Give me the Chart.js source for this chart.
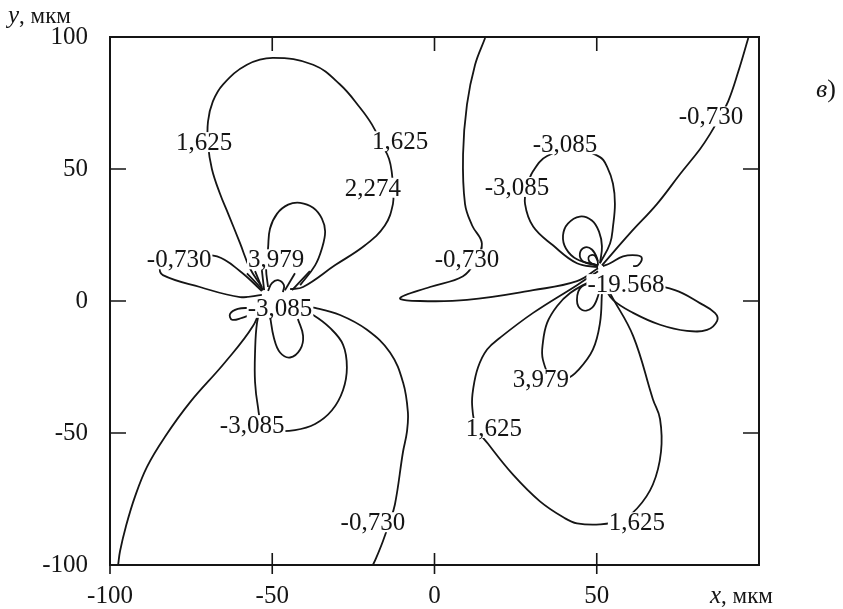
<!DOCTYPE html>
<html>
<head>
<meta charset="utf-8">
<script src="https://cdn.jsdelivr.net/npm/chart.js@4.4.1/dist/chart.umd.min.js"></script>
<style>
  html, body { margin: 0; padding: 0; background: #fff; }
  #wrap { width: 843px; height: 609px; }
</style>
</head>
<body>
<div id="wrap"><canvas id="chart" width="843" height="609"></canvas></div>
<script>
// axis ticks (мкм)
const xTicks = [-100, -50, 0, 50, 100];
const yTicks = [-100, -50, 0, 50, 100];

// contour lines as [x, y] pairs in мкм

// left dipole
const leftBigLoop = [[-53.2,5.3],[-56.9,12.4],[-59.9,21.8],[-63.6,33.1],[-66.1,40.6],[-68.6,50.0],[-69.8,59.4],[-69.8,68.0],[-68.3,75.6],[-65.2,82.0],[-57.8,89.5],[-49.8,92.1],[-37.4,89.5],[-29.1,82.0],[-23.0,73.3],[-19.3,66.9],[-16.2,59.4],[-14.0,53.8],[-13.1,48.1],[-12.8,42.5],[-12.8,36.8],[-15.3,28.6],[-21.4,21.1],[-30.7,13.5],[-40.5,5.3],[-44.5,4.5]];
const leftSmallLoop = [[-51.3,5.3],[-51.9,12.4],[-51.3,19.9],[-50.7,27.4],[-48.5,33.1],[-45.1,36.5],[-41.4,37.2],[-37.4,35.3],[-34.7,31.2],[-33.7,26.3],[-34.7,19.9],[-36.8,13.5],[-41.4,6.0]];
const leftSideLoop = [[-53.2,3.8],[-59.9,11.3],[-67.0,16.9],[-75.3,17.3],[-82.1,15.8],[-84.6,12.8],[-83.7,9.8],[-72.3,5.3],[-59.9,1.5],[-53.2,2.3]];
const leftHook = [[-56.9,-2.6],[-60.6,-3.0],[-63.0,-4.9],[-62.4,-7.1],[-59.3,-6.4],[-56.9,-5.3]];
const leftDownLine = [[-53.2,-0.8],[-55.9,-9.4],[-64.6,-23.3],[-75.3,-38.3],[-83.1,-51.5],[-88.6,-62.8],[-92.3,-74.1],[-95.1,-85.4],[-96.9,-94.7],[-97.5,-100]];
const leftLowerLoop = [[-53.2,-0.8],[-54.7,-8.3],[-55.3,-19.5],[-55.3,-30.8],[-54.4,-40.2],[-53.2,-45.9],[-49.2,-48.9],[-43.0,-48.9],[-36.8,-46.6],[-31.6,-41.4],[-28.2,-33.8],[-27.0,-25.2],[-28.2,-16.5],[-32.2,-10.2],[-37.4,-5.3],[-43.0,-1.9]];
const leftInnerLoop = [[-50.7,-5.6],[-49.5,-13.9],[-47.6,-19.5],[-44.5,-21.4],[-41.4,-18.4],[-40.5,-13.2],[-42.1,-6.8]];
const leftRightLine = [[-41.4,-1.9],[-36.8,-2.6],[-29.1,-5.3],[-20.8,-10.9],[-13.7,-19.5],[-9.7,-30.8],[-8.2,-42.1],[-8.5,-49.6],[-9.7,-57.1],[-12.2,-77.1],[-14.0,-84.2],[-15.9,-91.0],[-18.0,-97.4],[-19.0,-100]];
const leftFan1 = [[-57.8,10.5],[-52.9,4.1]];
const leftFan2 = [[-55.3,11.3],[-52.9,4.1]];
const leftFan3 = [[-53.2,11.7],[-52.5,4.1]];
const leftFan4 = [[-51.3,3.8],[-50.1,6.8],[-48.2,7.9],[-46.4,6.0],[-46.7,3.4]];
const leftFan5 = [[-43.0,10.5],[-46.1,4.1]];
const leftFan6 = [[-38.4,11.3],[-43.9,4.1]];

// right dipole
const rightThinLobe = [[15.6,99.6],[12.5,89.5],[10.0,74.4],[8.8,55.6],[9.4,36.8],[11.6,28.6],[14.6,21.8],[12.5,15.0],[8.8,9.4],[-1.4,5.3],[-10.6,1.1],[-4.5,0],[10.0,0.4],[30.4,4.1],[43.9,7.5],[50.4,12.4]];
const rightBigLoop = [[50.4,11.3],[43.9,6.0],[30.4,-4.5],[20.2,-13.9],[16.2,-18.4],[13.4,-25.2],[11.9,-33.5],[11.6,-39.5],[12.8,-47.7],[16.5,-54.1],[24.2,-65.8],[32.5,-75.9],[40.2,-82.3],[43.9,-84.2],[51.0,-84.6],[57.2,-83.1],[62.4,-78.6],[67.3,-69.5],[69.8,-57.1],[69.5,-44.7],[67.3,-37.2],[61.2,-13.2],[54.1,3.0],[51.6,9.8]];
const rightSideLobe = [[51.9,8.6],[63.3,6.8],[74.1,4.1],[81.8,-0.8],[86.4,-4.5],[87.1,-7.5],[84.0,-10.9],[77.8,-11.3],[69.5,-9.0],[61.2,-4.5],[55.0,0.4],[52.2,5.6]];
const rightHook = [[51.9,13.2],[54.1,14.3],[58.1,16.9],[62.4,17.3],[63.9,16.2],[62.7,13.5],[61.2,13.2]];
const rightUpLine = [[51.6,13.5],[60.2,25.6],[68.6,36.8],[75.7,48.1],[81.8,57.5],[84.9,63.2],[88.0,69.9],[90.5,75.6],[93.6,86.8],[96.7,99.6]];
const rightUpperLoop = [[51.0,14.3],[54.1,21.8],[55.0,28.2],[55.6,36.8],[55.0,44.4],[53.2,50.8],[51.0,54.5],[43.3,57.5],[34.7,54.9],[30.4,49.2],[28.5,43.2],[27.9,36.8],[30.4,28.2],[36.5,21.1],[43.9,14.3],[50.4,12.8]];
const rightMidLoop = [[50.4,13.5],[43.9,15.8],[40.5,19.9],[39.6,24.8],[41.1,29.3],[44.8,32.0],[48.5,30.5],[50.7,26.3],[51.6,20.7],[51.0,14.3]];
const rightSmallLoop = [[50.1,13.5],[45.8,15.0],[44.8,18.0],[46.4,20.3],[48.5,19.5],[50.1,16.2],[50.4,13.5]];
const rightTinyLoop = [[50.4,13.2],[47.9,14.7],[47.6,16.9],[49.2,17.3],[50.4,15.0]];
const rightLowLoop = [[51.0,6.8],[45.5,5.6],[43.9,0.4],[45.5,-3.4],[48.5,-2.6],[50.4,1.9],[51.0,6.0]];
const rightLowerLoop = [[47.9,7.5],[41.8,3.0],[37.8,-1.9],[34.7,-8.3],[33.4,-15.8],[33.4,-22.2],[36.2,-28.9],[40.8,-29.3],[44.2,-26.3],[48.8,-18.4],[51.0,-8.3],[51.6,3.0]];

const curves = [
  leftBigLoop, leftSmallLoop, leftSideLoop, leftHook, leftDownLine, leftLowerLoop,
  leftInnerLoop, leftRightLine, leftFan1, leftFan2, leftFan3, leftFan4, leftFan5, leftFan6,
  rightThinLobe, rightBigLoop, rightSideLobe, rightHook, rightUpLine, rightUpperLoop,
  rightMidLoop, rightSmallLoop, rightTinyLoop, rightLowLoop, rightLowerLoop
];

// level labels: text, x, y
const levelLabels = [
  ['1,625', -71.0, 60.2],
  ['1,625', -10.6, 60.5],
  ['2,274', -19.0, 42.9],
  ['3,979', -48.8, 15.8],
  ['-0,730', -78.7, 15.8],
  ['-3,085', -47.6, -2.6],
  ['-3,085', -56.2, -47.0],
  ['-0,730', -19.0, -83.8],
  ['-0,730', 10.0, 15.8],
  ['-3,085', 40.2, 59.4],
  ['-3,085', 25.4, 43.2],
  ['-19.568', 59.0, 6.4],
  ['3,979', 32.8, -29.7],
  ['1,625', 18.3, -48.1],
  ['1,625', 62.4, -83.8],
  ['-0,730', 85.2, 69.9]
];

const FONT = '"Liberation Serif", "Times New Roman", serif';
const INK = '#151515';

const levelLabelPlugin = {
  id: 'levelLabels',
  afterDatasetsDraw(chart) {
    const { ctx, scales: { x, y } } = chart;
    ctx.save();
    ctx.font = '25px ' + FONT;
    ctx.textAlign = 'center';
    ctx.textBaseline = 'alphabetic';
    levelLabels.forEach(([text, lx, ly]) => {
      const px = x.getPixelForValue(lx);
      const py = y.getPixelForValue(ly);
      const w = ctx.measureText(text).width;
      ctx.fillStyle = '#fff';
      ctx.fillRect(px - w / 2 - 1, py - 10, w + 2, 20);
      ctx.fillStyle = INK;
      ctx.fillText(text, px, py + 8);
    });
    ctx.restore();
  }
};

const framePlugin = {
  id: 'frame',
  afterDraw(chart) {
    const { ctx, chartArea: a, scales: { x, y } } = chart;
    ctx.save();
    ctx.strokeStyle = INK;
    ctx.lineWidth = 2;
    ctx.strokeRect(a.left, a.top, a.right - a.left, a.bottom - a.top);

    ctx.lineWidth = 1.6;
    ctx.beginPath();
    xTicks.forEach(v => {
      const px = x.getPixelForValue(v);
      if (v > -100 && v < 100) {
        ctx.moveTo(px, a.top);
        ctx.lineTo(px, a.top + 14);
      }
      if (v < 100) {
        ctx.moveTo(px, a.bottom - 12);
        ctx.lineTo(px, a.bottom + 9);
      }
    });
    yTicks.forEach(v => {
      if (v <= -100 || v >= 100) return;
      const py = y.getPixelForValue(v);
      ctx.moveTo(a.left, py);
      ctx.lineTo(a.left + 16, py);
      ctx.moveTo(a.right, py);
      ctx.lineTo(a.right - 16, py);
    });
    ctx.stroke();

    // axis names and panel letter
    ctx.fillStyle = INK;
    ctx.textBaseline = 'alphabetic';
    ctx.textAlign = 'left';
    ctx.font = 'italic 25px ' + FONT;
    ctx.fillText('y', 8, 23);
    let w = ctx.measureText('y').width;
    ctx.font = '23px ' + FONT;
    ctx.fillText(', мкм', 8 + w, 23);

    ctx.font = 'italic 25px ' + FONT;
    ctx.fillText('x', 710, 603);
    w = ctx.measureText('x').width;
    ctx.font = '23px ' + FONT;
    ctx.fillText(', мкм', 710 + w, 603);

    ctx.font = 'italic 26px ' + FONT;
    ctx.fillText('в', 816, 97);
    w = ctx.measureText('в').width;
    ctx.font = '26px ' + FONT;
    ctx.fillText(')', 816 + w, 97);
    ctx.restore();
  }
};

new Chart(document.getElementById('chart'), {
  type: 'scatter',
  data: {
    datasets: curves.map(c => ({
      data: c.map(([x, y]) => ({ x, y })),
      showLine: true,
      pointRadius: 0,
      borderColor: INK,
      borderWidth: 1.8,
      tension: 0.4,
      fill: false
    }))
  },
  options: {
    responsive: false,
    animation: false,
    layout: { padding: { left: 0, right: 84, top: 33, bottom: 0 } },
    plugins: {
      legend: { display: false },
      tooltip: { enabled: false }
    },
    scales: {
      x: {
        type: 'linear',
        min: -100,
        max: 100,
        afterFit: s => { s.height = 44; },
        afterBuildTicks: s => { s.ticks = xTicks.map(v => ({ value: v })); },
        grid: { display: false, drawTicks: false },
        border: { display: false },
        ticks: {
          padding: 16,
          color: INK,
          font: { family: FONT, size: 25 },
          callback: v => (v === 100 ? '' : v)
        }
      },
      y: {
        type: 'linear',
        min: -100,
        max: 100,
        afterFit: s => { s.width = 110; },
        afterBuildTicks: s => { s.ticks = yTicks.map(v => ({ value: v })); },
        grid: { display: false, drawTicks: false },
        border: { display: false },
        ticks: {
          padding: 22,
          color: INK,
          font: { family: FONT, size: 25 }
        }
      }
    }
  },
  plugins: [levelLabelPlugin, framePlugin]
});
</script>
</body>
</html>
